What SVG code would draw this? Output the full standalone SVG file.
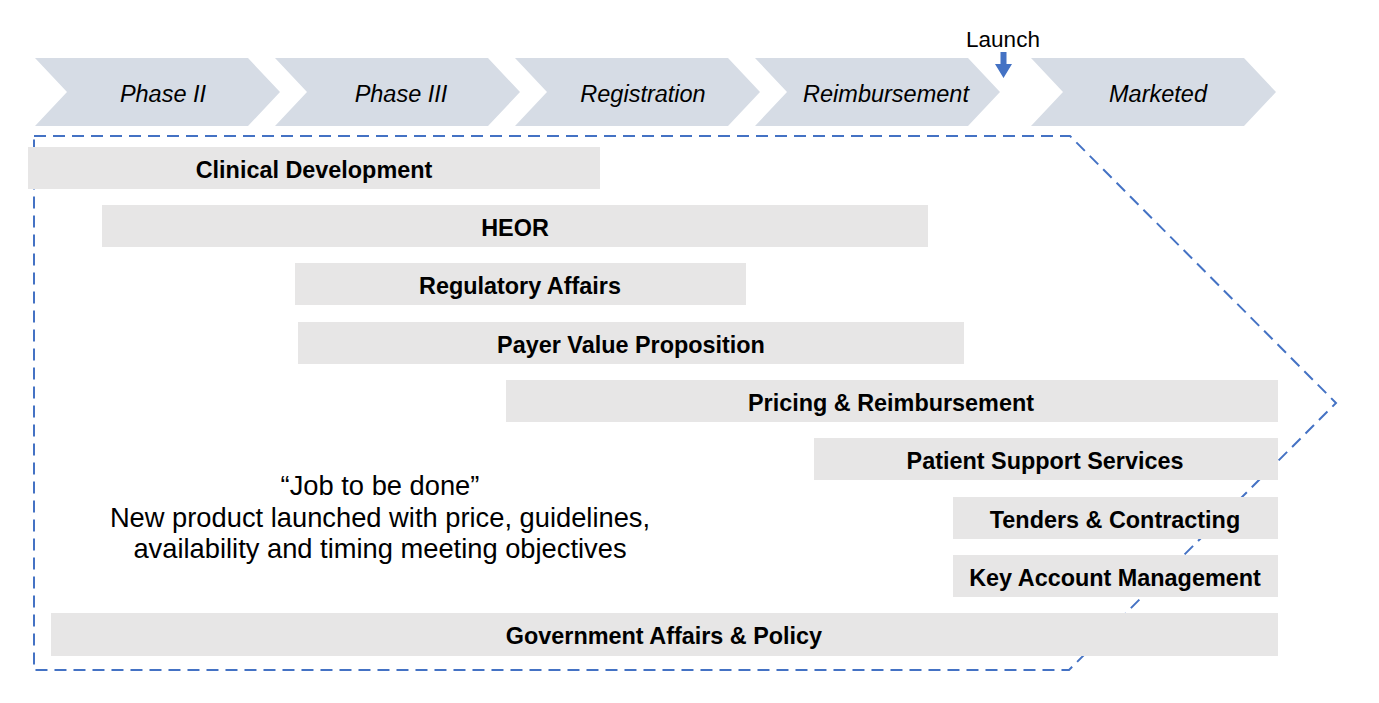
<svg xmlns="http://www.w3.org/2000/svg" width="1379" height="703" viewBox="0 0 1379 703">
<defs>
<style>
.chev{fill:#D6DCE5}
.ph{font-family:"Liberation Sans",Arial,sans-serif;font-style:italic;font-size:23.5px;fill:#000;text-anchor:middle}
.bar{fill:#E7E6E6}
.bt{font-family:"Liberation Sans",Arial,sans-serif;font-weight:bold;font-size:23.4px;fill:#000;text-anchor:middle}
.ct{font-family:"Liberation Sans",Arial,sans-serif;font-size:27.3px;fill:#000;text-anchor:middle}
.dash{fill:none;stroke:#4472C4;stroke-width:2;stroke-dasharray:12 7}
</style>
<path id="chevShape" d="M0,0 H213 L245,34 L213,68 H0 L32,34 Z"/>
</defs>
<rect width="1379" height="703" fill="#fff"/>
<g id="phases">
<g id="phase2"><use href="#chevShape" class="chev" x="35" y="58"/><text class="ph" x="163" y="101.5">Phase II</text></g>
<g id="phase3"><use href="#chevShape" class="chev" x="275" y="58"/><text class="ph" x="401" y="101.5">Phase III</text></g>
<g id="registration"><use href="#chevShape" class="chev" x="515" y="58"/><text class="ph" x="643" y="101.5">Registration</text></g>
<g id="reimbursement"><use href="#chevShape" class="chev" x="755" y="58"/><text class="ph" x="886" y="101.5">Reimbursement</text></g>
<g id="marketed"><use href="#chevShape" class="chev" x="1031" y="58"/><text class="ph" x="1158" y="101.5">Marketed</text></g>
</g>
<g id="launch">
<text x="1003" y="47" font-family="Liberation Sans, Arial, sans-serif" font-size="22.5" text-anchor="middle" fill="#000">Launch</text>
<path d="M1000.5,52 H1006.5 V64 H1012 L1003.5,78 L995,64 H1000.5 Z" fill="#4472C4"/>
</g>
<g id="connectors">
<path class="dash" d="M34,136 H1070 L1336,403 L1069,670 H34 Z"/>
</g>
<g id="clinical"><rect class="bar" x="28" y="147" width="572" height="42"/><text class="bt" x="314" y="177.5">Clinical Development</text></g>
<g id="heor"><rect class="bar" x="102" y="205" width="826" height="42"/><text class="bt" x="515" y="235.5">HEOR</text></g>
<g id="regulatory"><rect class="bar" x="295" y="263" width="451" height="42"/><text class="bt" x="520" y="293.5">Regulatory Affairs</text></g>
<g id="payer"><rect class="bar" x="298" y="322" width="666" height="42"/><text class="bt" x="631" y="352.5">Payer Value Proposition</text></g>
<g id="pricing"><rect class="bar" x="506" y="380" width="772" height="42"/><text class="bt" x="891" y="410.5">Pricing &amp; Reimbursement</text></g>
<g id="patient"><rect class="bar" x="814" y="438" width="464" height="42"/><text class="bt" x="1045" y="468.5">Patient Support Services</text></g>
<g id="tenders"><rect class="bar" x="953" y="497" width="325" height="42"/><text class="bt" x="1115" y="527.5">Tenders &amp; Contracting</text></g>
<g id="kam"><rect class="bar" x="953" y="555" width="325" height="42"/><text class="bt" x="1115" y="585.5">Key Account Management</text></g>
<g id="government"><rect class="bar" x="51" y="613" width="1227" height="43"/><text class="bt" x="664" y="644">Government Affairs &amp; Policy</text></g>
<g id="job">
<text class="ct" x="380" y="495">“Job to be done”</text>
<text class="ct" x="380" y="527">New product launched with price, guidelines,</text>
<text class="ct" x="380" y="558">availability and timing meeting objectives</text>
</g>
</svg>
